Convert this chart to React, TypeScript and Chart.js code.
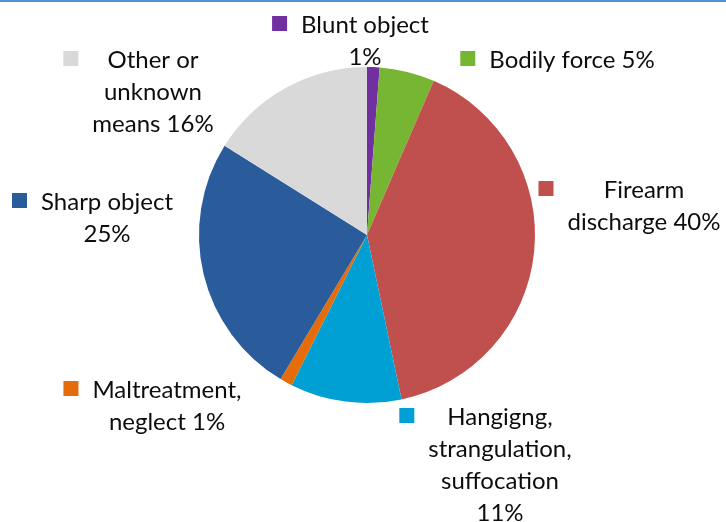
import React, { useEffect, useRef } from "react";
import { Chart, registerables } from "chart.js";

Chart.register(...registerables);

// ---- data ----
const categories = [
  "Blunt object",
  "Bodily force",
  "Firearm discharge",
  "Hangigng, strangulation, suffocation",
  "Maltreatment, neglect",
  "Sharp object",
  "Other or unknown means",
];
const values = [1.2, 5.3, 40.2, 10.7, 1.2, 25.3, 16.1];
const labelLines = [
  ["Blunt object", "1%"],
  ["Bodily force 5%"],
  ["Firearm", "discharge 40%"],
  ["Hangigng,", "strangulation,", "suffocation", "11%"],
  ["Maltreatment,", "neglect 1%"],
  ["Sharp object", "25%"],
  ["Other or", "unknown", "means 16%"],
];
const colors = ["#7030a0", "#77b632", "#c0504d", "#00a0d4", "#e46c0a", "#2a5b9b", "#d9d9d9"];

// ---- label layout (offset of text block centre / first line from pie centre) ----
const labelOffsets: [number, number][] = [
  [-2, -210],
  [205, -175],
  [277, -45],
  [133, 182],
  [-200, 155],
  [-260, -33],
  [-214, -175],
];
const LINE_H = 32;
const FONT = "24px Lato";
const MARKER = 15;
const MARKER_GAP = 14;

const labelPlugin = {
  id: "outerLabels",
  afterDraw(chart: any) {
    const ctx = chart.ctx as CanvasRenderingContext2D;
    const meta = chart.getDatasetMeta(0);
    const arc = meta.data[0] as any;
    const cx = arc.x;
    const cy = arc.y;
    ctx.save();
    // top rule
    ctx.fillStyle = "#5591d8";
    ctx.fillRect(0, 0, chart.width, 2);
    ctx.font = FONT;
    ctx.textAlign = "center";
    ctx.textBaseline = "middle";
    labelLines.forEach((lines, i) => {
      const [dx, dy] = labelOffsets[i];
      const x = cx + dx;
      const y = cy + dy;
      let maxW = 0;
      lines.forEach((l) => {
        maxW = Math.max(maxW, ctx.measureText(l).width);
      });
      ctx.fillStyle = colors[i];
      ctx.fillRect(x - maxW / 2 - MARKER_GAP - MARKER, y - 1.5 - MARKER / 2, MARKER, MARKER);
      ctx.fillStyle = "#0d0d0d";
      lines.forEach((l, k) => {
        ctx.fillText(l, x, y + k * LINE_H);
      });
    });
    ctx.restore();
  },
};

export default function App() {
  const ref = useRef<HTMLCanvasElement>(null);
  useEffect(() => {
    document.body.style.margin = "0";
    const chart = new Chart(ref.current!, {
      type: "pie",
      data: {
        labels: categories,
        datasets: [
          {
            data: values,
            backgroundColor: colors,
            borderWidth: 0,
          },
        ],
      },
      options: {
        animation: false,
        responsive: false,
        layout: { padding: { top: 67, bottom: 119, left: 199, right: 191 } },
        plugins: {
          legend: { display: false },
          tooltip: { enabled: false },
        },
      },
      plugins: [labelPlugin],
    });
    return () => chart.destroy();
  }, []);
  return (
    <div style={{ width: 726, height: 522, background: "#fff" }}>
      <canvas ref={ref} width={726} height={522} style={{ display: "block" }} />
    </div>
  );
}
